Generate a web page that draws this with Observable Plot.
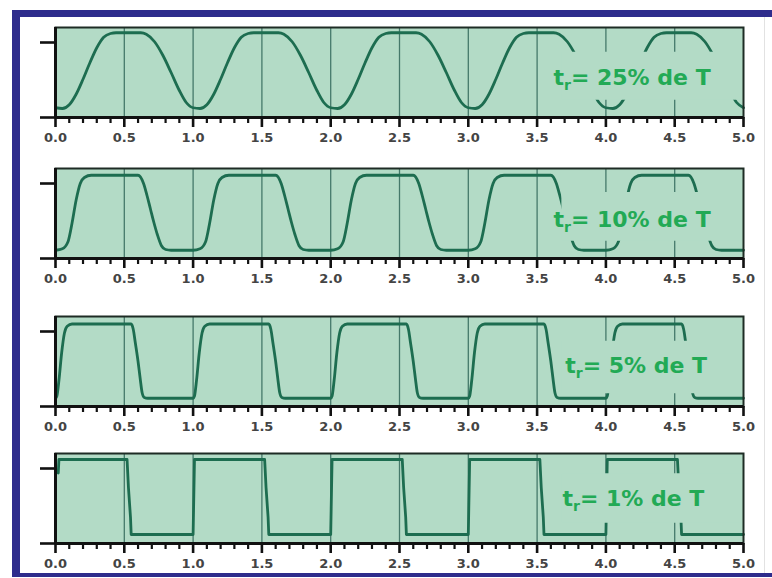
<!DOCTYPE html>
<html><head><meta charset="utf-8">
<script src="https://cdn.jsdelivr.net/npm/d3@7"></script>
<script src="https://cdn.jsdelivr.net/npm/@observablehq/plot@0.6"></script>
<style>
html,body{margin:0;padding:0;background:#fff;}
#wrap{position:relative;width:772px;height:578px;overflow:hidden;background:#fff;font-family:"DejaVu Sans",sans-serif;}
.bframe{position:absolute;left:12px;top:10px;width:790px;height:567px;border-left:8px solid #2e2c8c;border-top:7px solid #2e2c8c;border-bottom:4px solid #2e2c8c;box-sizing:border-box;pointer-events:none;}
.rline{position:absolute;left:764px;top:17px;width:1px;height:556px;background:#e2e2e2;}
.panel{position:absolute;left:0;}
</style></head><body>
<div id="wrap"><div class="bframe"></div><div class="rline"></div></div>
<script>
// ---- tick labels / positions ----
const xMajor = [0.0, 0.5, 1.0, 1.5, 2.0, 2.5, 3.0, 3.5, 4.0, 4.5, 5.0];
const xMinor = [0.1,0.2,0.3,0.4,0.6,0.7,0.8,0.9,1.1,1.2,1.3,1.4,1.6,1.7,1.8,1.9,2.1,2.2,2.3,2.4,2.6,2.7,2.8,2.9,3.1,3.2,3.3,3.4,3.6,3.7,3.8,3.9,4.1,4.2,4.3,4.4,4.6,4.7,4.8,4.9];
const gridX = [0.5, 1.0, 1.5, 2.0, 2.5, 3.0, 3.5, 4.0, 4.5];
const yTicks = [0, 1];

// ---- waveforms: [time, level] ----
const wave25 = [
 [0,.13],[.05,.12],[.1,.17],[.15,.31],[.2,.51],[.25,.73],[.3,.93],[.35,1.07],[.4,1.12],[.44,1.13],[.62,1.13],[.66,1.11],[.72,1.01],[.78,.83],[.84,.6],[.9,.36],[.95,.2],
 [1,.13],[1.05,.12],[1.1,.17],[1.15,.31],[1.2,.51],[1.25,.73],[1.3,.93],[1.35,1.07],[1.4,1.12],[1.44,1.13],[1.62,1.13],[1.66,1.11],[1.72,1.01],[1.78,.83],[1.84,.6],[1.9,.36],[1.95,.2],
 [2,.13],[2.05,.12],[2.1,.17],[2.15,.31],[2.2,.51],[2.25,.73],[2.3,.93],[2.35,1.07],[2.4,1.12],[2.44,1.13],[2.62,1.13],[2.66,1.11],[2.72,1.01],[2.78,.83],[2.84,.6],[2.9,.36],[2.95,.2],
 [3,.13],[3.05,.12],[3.1,.17],[3.15,.31],[3.2,.51],[3.25,.73],[3.3,.93],[3.35,1.07],[3.4,1.12],[3.44,1.13],[3.62,1.13],[3.66,1.11],[3.72,1.01],[3.78,.83],[3.84,.6],[3.9,.36],[3.95,.2],
 [4,.13],[4.05,.12],[4.1,.17],[4.15,.31],[4.2,.51],[4.25,.73],[4.3,.93],[4.35,1.07],[4.4,1.12],[4.44,1.13],[4.62,1.13],[4.66,1.11],[4.72,1.01],[4.78,.83],[4.84,.6],[4.9,.36],[4.95,.2],
 [5,.13]
];
const wave10 = [
 [0,.11],[.05,.13],[.09,.22],[.12,.47],[.15,.78],[.18,1.0],[.21,1.08],[.26,1.11],[.6,1.11],[.64,1.0],[.665,.84],[.69,.66],[.715,.48],[.74,.32],[.77,.17],[.8,.12],[.84,.11],
 [1,.11],[1.05,.13],[1.09,.22],[1.12,.47],[1.15,.78],[1.18,1.0],[1.21,1.08],[1.26,1.11],[1.6,1.11],[1.64,1.0],[1.665,.84],[1.69,.66],[1.715,.48],[1.74,.32],[1.77,.17],[1.8,.12],[1.84,.11],
 [2,.11],[2.05,.13],[2.09,.22],[2.12,.47],[2.15,.78],[2.18,1.0],[2.21,1.08],[2.26,1.11],[2.6,1.11],[2.64,1.0],[2.665,.84],[2.69,.66],[2.715,.48],[2.74,.32],[2.77,.17],[2.8,.12],[2.84,.11],
 [3,.11],[3.05,.13],[3.09,.22],[3.12,.47],[3.15,.78],[3.18,1.0],[3.21,1.08],[3.26,1.11],[3.6,1.11],[3.64,1.0],[3.665,.84],[3.69,.66],[3.715,.48],[3.74,.32],[3.77,.17],[3.8,.12],[3.84,.11],
 [4,.11],[4.05,.13],[4.09,.22],[4.12,.47],[4.15,.78],[4.18,1.0],[4.21,1.08],[4.26,1.11],[4.6,1.11],[4.64,1.0],[4.665,.84],[4.69,.66],[4.715,.48],[4.74,.32],[4.77,.17],[4.8,.12],[4.84,.11],
 [5,.11]
];
const wave5 = [
 [0,.11],[.01,.14],[.025,.35],[.045,.72],[.065,.98],[.085,1.07],[.12,1.1],[.55,1.1],[.565,1.03],[.58,.85],[.6,.6],[.615,.38],[.63,.18],[.645,.12],[.67,.11],
 [1,.11],[1.01,.14],[1.025,.35],[1.045,.72],[1.065,.98],[1.085,1.07],[1.12,1.1],[1.55,1.1],[1.565,1.03],[1.58,.85],[1.6,.6],[1.615,.38],[1.63,.18],[1.645,.12],[1.67,.11],
 [2,.11],[2.01,.14],[2.025,.35],[2.045,.72],[2.065,.98],[2.085,1.07],[2.12,1.1],[2.55,1.1],[2.565,1.03],[2.58,.85],[2.6,.6],[2.615,.38],[2.63,.18],[2.645,.12],[2.67,.11],
 [3,.11],[3.01,.14],[3.025,.35],[3.045,.72],[3.065,.98],[3.085,1.07],[3.12,1.1],[3.55,1.1],[3.565,1.03],[3.58,.85],[3.6,.6],[3.615,.38],[3.63,.18],[3.645,.12],[3.67,.11],
 [4,.11],[4.01,.14],[4.025,.35],[4.045,.72],[4.065,.98],[4.085,1.07],[4.12,1.1],[4.55,1.1],[4.565,1.03],[4.58,.85],[4.6,.6],[4.615,.38],[4.63,.18],[4.645,.12],[4.67,.11],
 [5,.11]
];
const wave1 = [
 [0.02,.94],[0.025,1.12],[.52,1.12],[.53,.75],[.545,.35],[.55,.12],
 [1,.12],[1.01,1.12],[1.52,1.12],[1.53,.75],[1.545,.35],[1.55,.12],
 [2,.12],[2.01,1.12],[2.52,1.12],[2.53,.75],[2.545,.35],[2.55,.12],
 [3,.12],[3.01,1.12],[3.52,1.12],[3.53,.75],[3.545,.35],[3.55,.12],
 [4,.12],[4.01,1.12],[4.52,1.12],[4.53,.75],[4.545,.35],[4.55,.12],
 [5,.12]
];

// ---- labels ----
const labelBase = "t";
const labelSub = "r";
const labelTail = ["= 25% de T", "= 10% de T", "= 5% de T", "= 1% de T"];
const labelX = [4.19, 4.19, 4.22, 4.2];
const labelY = [0.53, 0.51, 0.54, 0.59];
// label background box (data units)
const boxX1 = [3.68, 3.68, 3.68, 3.68];
const boxX2 = [5.0, 5.0, 5.0, 5.0];
const boxY1 = [0.23, 0.23, 0.17, 0.27];
const boxY2 = [0.87, 0.88, 0.87, 0.93];

const waves = [wave25, wave10, wave5, wave1];
const curves = ["monotone-x", "monotone-x", "monotone-x", "linear"];
const panelTops = [17, 158, 306, 443];

const BG = "#b3dbc6", LINE = "#1d6d50", GRID = "#45796a", LABEL = "#22aa55";
const NS = "http://www.w3.org/2000/svg";
const wrap = document.getElementById("wrap");

waves.forEach((wave, i) => {
  const pts = wave.map(([t, v]) => ({t, v}));
  const box = [{x1: boxX1[i], x2: boxX2[i], y1: boxY1[i], y2: boxY2[i]}];
  const lab = [{x: labelX[i], y: labelY[i], text: labelBase + labelSub + labelTail[i]}];
  const svg = Plot.plot({
    width: 772, height: 132,
    marginLeft: 55, marginRight: 29, marginTop: 10, marginBottom: 32,
    x: {domain: [0, 5], label: null},
    y: {domain: [0, 1.2], label: null},
    style: {background: "transparent", overflow: "visible", fontFamily: "DejaVu Sans", color: "#111"},
    marks: [
      Plot.frame({fill: BG, stroke: null}),
      Plot.ruleX(gridX, {stroke: GRID, strokeWidth: 1.3}),
      Plot.line(pts, {x: "t", y: "v", stroke: LINE, strokeWidth: 2.8, curve: curves[i]}),
      Plot.rect(box, {x1: "x1", x2: "x2", y1: "y1", y2: "y2", fill: BG}),
      Plot.text(lab, {x: "x", y: "y", text: "text", fill: LABEL, fontSize: 22, fontWeight: "bold", fontFamily: "DejaVu Sans", textAnchor: "middle"}),
      Plot.frame({stroke: "#1e2c25", strokeWidth: 2}),
      Plot.axisY({ticks: yTicks, tickSize: 15, tickFormat: () => "", stroke: "#111", strokeWidth: 2.6}),
      Plot.axisX({ticks: xMinor, tickSize: 6, tickFormat: () => "", stroke: "#111", strokeWidth: 2.2}),
      Plot.axisX({ticks: xMajor, tickSize: 10, tickPadding: 5, tickFormat: d => d.toFixed(1), stroke: "#111", strokeWidth: 2.6, fill: "#444", fontSize: 13, fontWeight: "bold", fontFamily: "DejaVu Sans"}),
      Plot.ruleY([0], {stroke: "#111", strokeWidth: 3}),
      Plot.ruleX([0], {stroke: "#111", strokeWidth: 3})
    ]
  });
  svg.querySelectorAll('g[aria-label="text"] text').forEach(t => {
    t.textContent = "";
    const a = document.createElementNS(NS, "tspan"); a.textContent = labelBase;
    const b = document.createElementNS(NS, "tspan"); b.textContent = labelSub;
    b.setAttribute("font-size", "14"); b.setAttribute("dy", "5");
    const c = document.createElementNS(NS, "tspan"); c.textContent = labelTail[i];
    c.setAttribute("dy", "-5");
    t.append(a, b, c);
  });
  const div = document.createElement("div");
  div.className = "panel";
  div.style.top = panelTops[i] + "px";
  div.appendChild(svg);
  wrap.appendChild(div);
});
</script>
</body></html>
